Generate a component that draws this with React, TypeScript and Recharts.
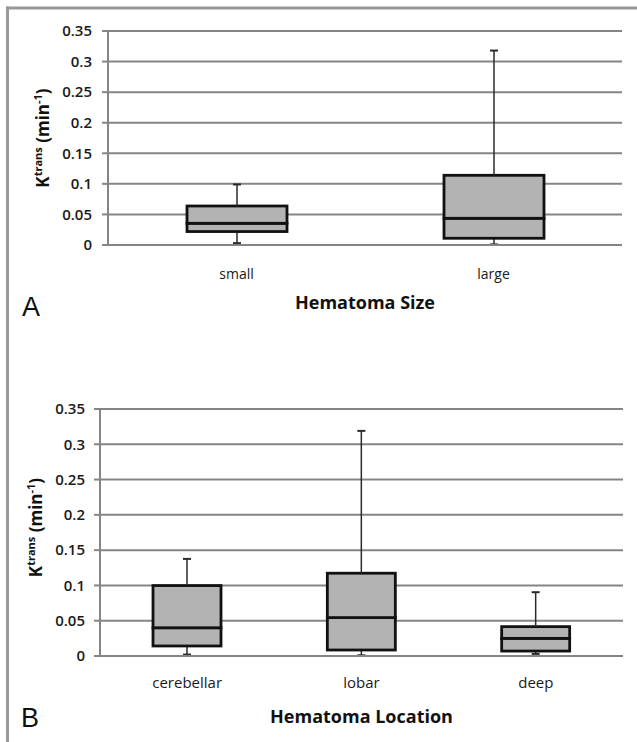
import React from 'react';
import { ComposedChart, Bar, XAxis, YAxis, CartesianGrid } from 'recharts';

// shared y ticks (Ktrans, min^-1)
const yTicks = [0, 0.05, 0.1, 0.15, 0.2, 0.25, 0.3, 0.35];

// Panel A - hematoma size
const sizeCategories = ['small', 'large'];
const sizeMin = [0.003, 0.001];
const sizeQ1 = [0.022, 0.011];
const sizeMedian = [0.0355, 0.0437];
const sizeQ3 = [0.0638, 0.114];
const sizeMax = [0.099, 0.318];

// Panel B - hematoma location
const locCategories = ['cerebellar', 'lobar', 'deep'];
const locMin = [0.002, 0.001, 0.003];
const locQ1 = [0.0142, 0.0085, 0.007];
const locMedian = [0.04, 0.0544, 0.025];
const locQ3 = [0.0998, 0.1173, 0.0416];
const locMax = [0.1376, 0.319, 0.0904];

const GRID = '#858585';
const FONT = '"Open Sans", "Liberation Sans", sans-serif';

function buildRows(cats: string[], min: number[], q1: number[], med: number[], q3: number[], max: number[]) {
  return cats.map((name, i) => ({
    name,
    base: min[i],
    lowWhisker: q1[i] - min[i],
    lowBox: med[i] - q1[i],
    highBox: q3[i] - med[i],
    highWhisker: max[i] - q3[i],
  }));
}

const Empty = () => null;

const LowWhisker = (p: any) => {
  const cx = p.x + p.width / 2;
  const bottom = p.y + p.height;
  return (
    <g>
      <line x1={cx} x2={cx} y1={p.y} y2={bottom} stroke="#2a2a2a" strokeWidth={1.5} />
      <line x1={cx - 4} x2={cx + 4} y1={bottom} y2={bottom} stroke="#2a2a2a" strokeWidth={2} />
    </g>
  );
};

const HighWhisker = (p: any) => {
  const cx = p.x + p.width / 2;
  return (
    <g>
      <line x1={cx} x2={cx} y1={p.y} y2={p.y + p.height} stroke="#2a2a2a" strokeWidth={1.5} />
      <line x1={cx - 4} x2={cx + 4} y1={p.y} y2={p.y} stroke="#2a2a2a" strokeWidth={2} />
    </g>
  );
};

const BoxPart = (p: any) => (
  <rect x={p.x} y={p.y} width={p.width} height={p.height} fill="#b3b3b3" stroke="#111" strokeWidth={2.8} />
);

function yTitle(baselineX: number, shiftY: number) {
  return (props: any) => {
    const vb = props.viewBox || {};
    const cy = vb.y + vb.height / 2 + shiftY;
    return (
      <text
        x={baselineX}
        y={cy}
        transform={`rotate(-90, ${baselineX}, ${cy})`}
        textAnchor="middle"
        fontFamily={FONT}
        fontWeight="bold"
        fontSize={17}
        fill="#111"
      >
        <tspan>K</tspan>
        <tspan fontSize={11} dy={-7}>trans</tspan>
        <tspan dy={7}> (min</tspan>
        <tspan fontSize={11} dy={-7}>-1</tspan>
        <tspan dy={7}>)</tspan>
      </text>
    );
  };
}

interface PanelProps {
  rows: any[];
  title: string;
  top: number;
  height: number;
  marginTop: number;
  marginRight: number;
  yWidth: number;
  barSize: number;
  catFont: number;
  catGap: number;
  catHeight: number;
  titleOffset: number;
  labelX: number;
  labelShift: number;
  tickMargin: number;
}

function BoxPanel(p: PanelProps) {
  const n = p.rows.length;
  const edgeTicks = Array.from({ length: n + 1 }, (_, i) => i);
  return (
    <div style={{ position: 'absolute', left: 0, top: p.top, width: 637, height: p.height }}>
      <ComposedChart
        width={637}
        height={p.height}
        data={p.rows}
        margin={{ top: p.marginTop, right: p.marginRight, bottom: 0, left: 0 }}
      >
        <CartesianGrid vertical={false} stroke={GRID} strokeWidth={2} />
        <XAxis
          xAxisId="b-cat"
          dataKey="name"
          height={p.catHeight}
          axisLine={false}
          tickLine={false}
          tickSize={0}
          tickMargin={p.catGap}
          tick={{ fontSize: p.catFont, fill: '#1a1a1a', fontFamily: FONT }}
          label={{
            value: p.title,
            position: 'insideBottom',
            offset: p.titleOffset,
            fontSize: 18,
            fontWeight: 'bold',
            fill: '#111',
            fontFamily: FONT,
          }}
        />
        <XAxis
          xAxisId="a-edge"
          type="number"
          domain={[0, n]}
          ticks={edgeTicks}
          tick={false}
          height={6}
          tickSize={5}
          axisLine={{ stroke: GRID, strokeWidth: 2 }}
          tickLine={{ stroke: GRID, strokeWidth: 2 }}
        />
        <YAxis
          width={p.yWidth}
          domain={[0, 0.35]}
          ticks={yTicks}
          tickSize={6}
          tickMargin={p.tickMargin}
          axisLine={{ stroke: GRID, strokeWidth: 2 }}
          tickLine={{ stroke: GRID, strokeWidth: 2 }}
          tick={{ fontSize: 15, fill: '#1a1a1a', fontFamily: FONT, fontWeight: 600 }}
          label={yTitle(p.labelX, p.labelShift)}
        />
        <Bar xAxisId="b-cat" dataKey="base" stackId="box" barSize={p.barSize} shape={Empty} isAnimationActive={false} />
        <Bar xAxisId="b-cat" dataKey="lowWhisker" stackId="box" barSize={p.barSize} shape={LowWhisker} isAnimationActive={false} />
        <Bar xAxisId="b-cat" dataKey="lowBox" stackId="box" barSize={p.barSize} shape={BoxPart} isAnimationActive={false} />
        <Bar xAxisId="b-cat" dataKey="highBox" stackId="box" barSize={p.barSize} shape={BoxPart} isAnimationActive={false} />
        <Bar xAxisId="b-cat" dataKey="highWhisker" stackId="box" barSize={p.barSize} shape={HighWhisker} isAnimationActive={false} />
      </ComposedChart>
    </div>
  );
}

export default function App() {
  const sizeRows = buildRows(sizeCategories, sizeMin, sizeQ1, sizeMedian, sizeQ3, sizeMax);
  const locRows = buildRows(locCategories, locMin, locQ1, locMedian, locQ3, locMax);

  return (
    <div style={{ position: 'absolute', left: 0, top: 0, width: 637, height: 742, background: '#fff', overflow: 'hidden' }}>
      <BoxPanel
        rows={sizeRows}
        title="Hematoma Size"
        top={0}
        height={330}
        marginTop={31}
        marginRight={15}
        yWidth={108}
        barSize={100}
        catFont={14}
        catGap={18}
        catHeight={79}
        titleOffset={21}
        labelX={49}
        labelShift={0}
        tickMargin={10}
      />
      <BoxPanel
        rows={locRows}
        title="Hematoma Location"
        top={360}
        height={382}
        marginTop={49}
        marginRight={14}
        yWidth={100}
        barSize={68}
        catFont={15}
        catGap={15}
        catHeight={80}
        titleOffset={19}
        labelX={42}
        labelShift={-5}
        tickMargin={9}
      />
      <svg width={637} height={742} style={{ position: 'absolute', left: 0, top: 0, pointerEvents: 'none' }}>
        <line x1={6} x2={637} y1={8} y2={8} stroke="#9a9a9a" strokeWidth={3} />
        <line x1={7.5} x2={7.5} y1={6.5} y2={742} stroke="#9a9a9a" strokeWidth={3} />
        <text x={22} y={316} fontFamily='"Liberation Sans", Arial, sans-serif' fontSize={27} fill="#111">A</text>
        <text x={21} y={727} fontFamily='"Liberation Sans", Arial, sans-serif' fontSize={27} fill="#111">B</text>
      </svg>
    </div>
  );
}
